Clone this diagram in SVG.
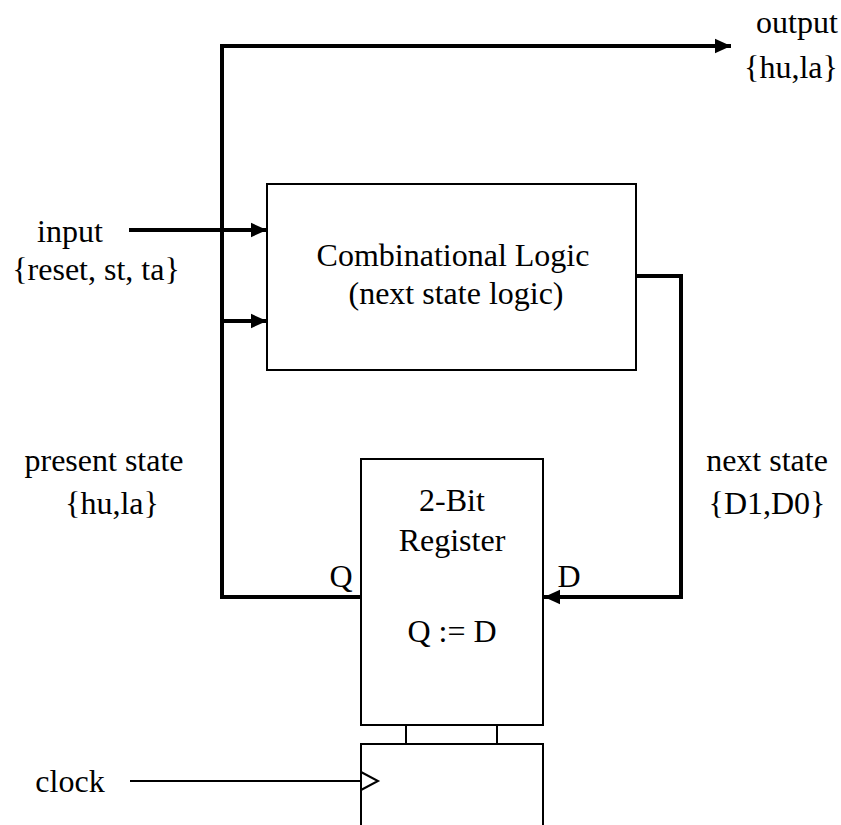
<svg xmlns="http://www.w3.org/2000/svg" width="841" height="825" viewBox="0 0 841 825">
<defs>
<style>
text{font-family:"Liberation Serif","Times New Roman",serif;font-size:32px;fill:#000}
.box{fill:#fff;stroke:#000;stroke-width:2}
.wire{fill:none;stroke:#000;stroke-width:4}
.thin{fill:none;stroke:#000;stroke-width:2}
</style>
<marker id="ah" viewBox="0 0 10 10" refX="10" refY="5" markerWidth="4" markerHeight="4" orient="auto" markerUnits="strokeWidth">
<path d="M0,0.5 L10,5 L0,9.5 z" fill="#000"/>
</marker>
</defs>
<rect width="841" height="825" fill="#fff"/>
<g id="connectors">
<polyline class="wire" points="360,597 222,597 222,46 731,46" marker-end="url(#ah)"/>
<line class="wire" x1="129" y1="230" x2="267" y2="230" marker-end="url(#ah)"/>
<line class="wire" x1="222" y1="321" x2="267" y2="321" marker-end="url(#ah)"/>
<polyline class="wire" points="636,276 681,276 681,597 544,597" marker-end="url(#ah)"/>
<line class="thin" x1="130" y1="781" x2="360" y2="781"/>
</g>
<g id="comb">
<rect class="box" x="267" y="184" width="369" height="186"/>
<text x="453" y="266" text-anchor="middle">Combinational Logic</text>
<text x="456" y="304" text-anchor="middle">(next state logic)</text>
</g>
<g id="register">
<rect class="box" x="361" y="459" width="182" height="266"/>
<text x="452" y="511" text-anchor="middle">2-Bit</text>
<text x="452" y="551" text-anchor="middle">Register</text>
<text x="452" y="642" text-anchor="middle">Q := D</text>
<text x="341" y="587" text-anchor="middle">Q</text>
<text x="569" y="587" text-anchor="middle">D</text>
</g>
<g id="clockbox">
<line class="thin" x1="406" y1="725" x2="406" y2="744"/>
<line class="thin" x1="497" y1="725" x2="497" y2="744"/>
<polyline class="thin" points="361,830 361,744 543,744 543,830"/>
<polyline class="thin" points="361,772 378,781 361,790"/>
</g>
<g id="labels">
<text x="70" y="242" text-anchor="middle">input</text>
<text x="96" y="280" text-anchor="middle">{reset, st, ta}</text>
<text x="797" y="33" text-anchor="middle">output</text>
<text x="791" y="78" text-anchor="middle">{hu,la}</text>
<text x="104" y="471" text-anchor="middle">present state</text>
<text x="112" y="514" text-anchor="middle">{hu,la}</text>
<text x="767" y="471" text-anchor="middle">next state</text>
<text x="767" y="514" text-anchor="middle">{D1,D0}</text>
<text x="70" y="792" text-anchor="middle">clock</text>
</g>
</svg>
